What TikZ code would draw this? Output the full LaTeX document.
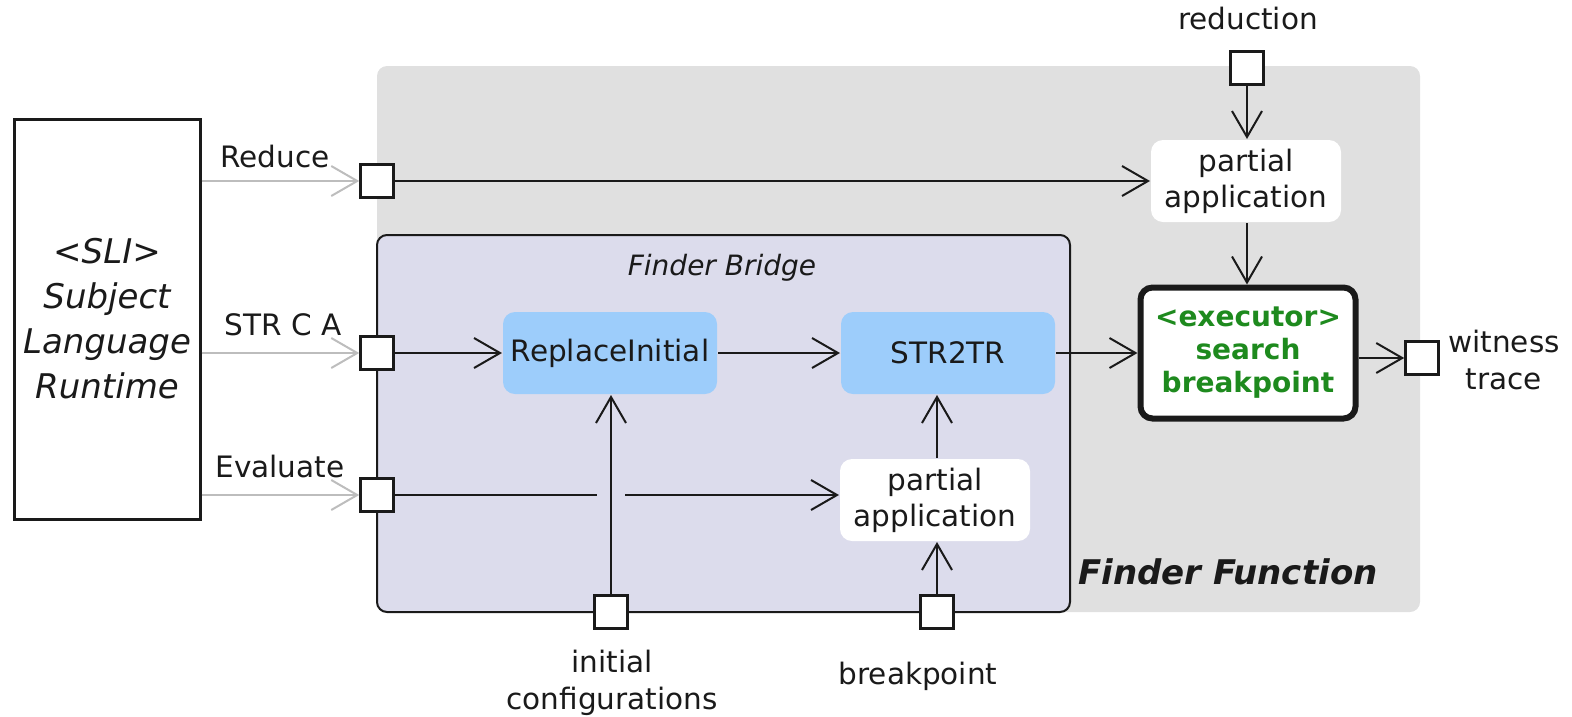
\documentclass[tikz,border=0pt]{standalone}
\usepackage{fontspec}
\setmainfont{DejaVu Sans}
\usetikzlibrary{arrows.meta}
\definecolor{ffgray}{HTML}{E0E0E0}
\definecolor{bridgefill}{HTML}{DCDCEC}
\definecolor{blueop}{HTML}{9DCDFB}
\definecolor{execgreen}{HTML}{1E8A1E}
\definecolor{feedgray}{HTML}{BDBDBD}
\definecolor{ink}{HTML}{1A1A1A}
\begin{document}
\begin{tikzpicture}[x=1pt,y=-1pt,
  font=\fontsize{29.5}{37}\selectfont,
  line width=2pt, draw=ink, text=ink,
  arr/.style={-{Straight Barb[length=26pt,width=30pt,line width=2pt]}},
  feed/.style={arr, draw=feedgray},
  port/.style={draw=ink,fill=white,minimum size=33pt,inner sep=0pt,line width=2.5pt},
  opbox/.style={fill=blueop,rounded corners=12pt,minimum width=214pt,minimum height=82pt,inner sep=0pt},
  pabox/.style={fill=white,rounded corners=12pt,minimum width=190pt,minimum height=82pt,inner sep=0pt,align=center,font=\fontsize{29.5}{36}\selectfont},
  lbl/.style={inner sep=0pt,align=center}
]
\useasboundingbox (0,0) rectangle (1572,716);
% backgrounds
\fill[ffgray,rounded corners=10pt] (377,66) rectangle (1420,612);
\draw[fill=bridgefill,rounded corners=10pt] (377,235) rectangle (1070,612);
\node[lbl,font=\fontsize{28}{34}\selectfont\itshape] (fbl) at (722,268) {Finder Bridge};
\node[lbl,font=\fontsize{34}{40}\selectfont\bfseries\itshape] (ffl) at (1228,572) {Finder Function};

% SLI box
\node[draw=ink,line width=3pt,minimum width=186pt,minimum height=400pt,align=center,
      font=\fontsize{34}{45}\selectfont\itshape] (sli) at (107,319)
      {<SLI>\\Subject\\Language\\Runtime};

% ports
\node[port] (rp) at (377,181) {};
\node[port] (sp) at (377,353) {};
\node[port] (ep) at (377,495) {};
\node[port] (redp) at (1247,68) {};
\node[port] (ip) at (611,612) {};
\node[port] (bp) at (937,612) {};
\node[port] (wp) at (1422,358) {};

% operation boxes
\node[opbox] (ri) at (610,353) {ReplaceInitial};
\node[opbox] (st) at (948,353) {STR2TR};
\node[pabox] (pa2) at (935,500) {partial\\application};
\node[pabox] (pa1) at (1246,181) {partial\\application};
\node[draw=ink,fill=white,line width=6pt,rounded corners=12pt,minimum width=215pt,minimum height=131pt,
      align=center,text=execgreen,font=\fontsize{28}{33}\selectfont\bfseries] (ex) at (1248,353)
      {<executor>\\search\\breakpoint};

% labels
\node[lbl] (lred) at (275,156) {Reduce};
\node[lbl] (lstr) at (283,325) {STR C A};
\node[lbl] (lev) at (280,466) {Evaluate};
\node[lbl] (lreduction) at (1248,18) {reduction};
\node[lbl] (lwit) at (1504,360) {witness\\trace};
\node[lbl] (lini) at (612,683) {initial\\configurations};
\node[lbl] (lbp) at (918,676) {breakpoint};

% feeds from SLI
\draw[feed] (sli.east |- rp.west) -- (rp.west);
\draw[feed] (sli.east |- sp.west) -- (sp.west);
\draw[feed] (sli.east |- ep.west) -- (ep.west);

% connectors
\draw[arr] (rp.east) -- (pa1.west |- rp.east);
\draw[arr] (redp.south) -- (redp.south |- pa1.north);
\draw[arr] (pa1.south -| redp.south) -- (redp.south |- ex.north);
\draw[arr] (sp.east) -- (ri.west);
\draw[arr] (ri.east) -- (st.west);
\draw[arr] (st.east) -- (ex.west);
\draw[arr] (ex.east |- wp.west) -- (wp.west);
\draw[arr] (ep.east) -- (pa2.west |- ep.east);
\fill[bridgefill] ([xshift=-14pt,yshift=-5pt]ip.north |- ep.east) rectangle ([xshift=14pt,yshift=5pt]ip.north |- ep.east);
\draw[arr] (ip.north) -- (ip.north |- ri.south);
\draw[arr] (bp.north) -- (bp.north |- pa2.south);
\draw[arr] (pa2.north -| bp.north) -- (bp.north |- st.south);
\end{tikzpicture}
\end{document}
